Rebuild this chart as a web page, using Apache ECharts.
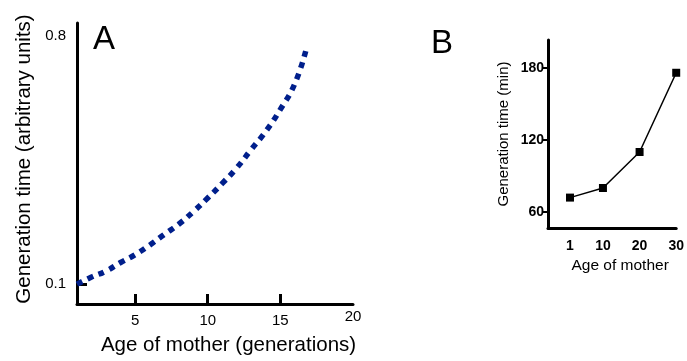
<!DOCTYPE html>
<html>
<head>
<meta charset="utf-8">
<script src="https://cdn.jsdelivr.net/npm/echarts@6/dist/echarts.min.js"></script>
<style>
  html, body { margin: 0; padding: 0; background: #fff; }
  #chart { width: 687px; height: 361px; }
</style>
</head>
<body>
<div id="chart"></div>
<script>
// Panel A: modelled generation time against mother's age (generations)
const ageGenerations = [1, 2, 3, 4, 5, 6, 7, 8, 9, 10, 11, 12, 13, 14, 15, 16, 16.8];
const genTimeArbitrary = [0.100, 0.120, 0.137, 0.161, 0.183, 0.210, 0.240, 0.269, 0.304, 0.343, 0.384, 0.428, 0.480, 0.531, 0.593, 0.666, 0.766];
const aXTickLabels = [5, 10, 15, 20];
const aXTicks = [5, 10, 15];
const aYTickLabels = [0.1, 0.8];

// Panel B: measured generation time (min) against mother's age
const ageMother = [1, 10, 20, 30];
const genTimeMin = [72, 80, 110, 176];
const bXTickLabels = [1, 10, 20, 30];
const bYTickLabels = [60, 120, 180];

const FONT = '"Liberation Sans", Arial, sans-serif';
const chart = echarts.init(document.getElementById('chart'), null, { renderer: 'canvas' });

chart.setOption({
  animation: false,
  backgroundColor: '#fff',
  grid: [
    { left: 77, top: 23, width: 276, height: 283 },
    { left: 548, top: 40, width: 134, height: 188 }
  ],
  title: [
    { text: 'A', left: 88, top: 18, textStyle: { fontFamily: FONT, fontSize: 33, fontWeight: 'normal', color: '#000' } },
    { text: 'B', left: 426, top: 22, textStyle: { fontFamily: FONT, fontSize: 33, fontWeight: 'normal', color: '#000' } }
  ],
  xAxis: [
    {
      gridIndex: 0, type: 'value', min: 1, max: 20,
      splitLine: { show: false },
      axisLine: { onZero: false, lineStyle: { color: '#000', width: 3 } },
      axisTick: { show: true, inside: true, length: 10, customValues: aXTicks, lineStyle: { color: '#000', width: 3 } },
      axisLabel: {
        customValues: aXTickLabels, margin: 9, color: '#000', fontSize: 15, fontFamily: FONT,
        // the end label sits a little higher than the others
        formatter: v => (v === 20 ? '{end|20}' : String(v)),
        rich: { end: { fontSize: 15, fontFamily: FONT, color: '#000', lineHeight: 8 } }
      },
      name: 'Age of mother (generations)', nameLocation: 'middle', nameGap: 31,
      nameTextStyle: { fontFamily: FONT, fontSize: 20.5, color: '#000', padding: [0, 0, 0, 27] }
    },
    {
      gridIndex: 1, type: 'value', min: -5, max: 30,
      splitLine: { show: false },
      axisLine: { onZero: false, lineStyle: { color: '#000', width: 3 } },
      axisTick: { show: false },
      axisLabel: { customValues: bXTickLabels, margin: 11, color: '#000', fontSize: 14, fontWeight: 'bold', fontFamily: FONT },
      name: 'Age of mother', nameLocation: 'middle', nameGap: 30,
      nameTextStyle: { fontFamily: FONT, fontSize: 15.5, color: '#000', padding: [0, 0, 0, 16] }
    }
  ],
  yAxis: [
    {
      gridIndex: 0, type: 'value', min: 0.044, max: 0.8364,
      splitLine: { show: false },
      axisLine: { onZero: false, lineStyle: { color: '#000', width: 3 } },
      axisTick: { show: true, inside: true, length: 10, customValues: [0.1], lineStyle: { color: '#000', width: 3 } },
      axisLabel: { customValues: aYTickLabels, margin: 11, color: '#000', fontSize: 15, fontFamily: FONT },
      name: 'Generation time (arbitrary units)', nameLocation: 'middle', nameGap: 42,
      nameTextStyle: { fontFamily: FONT, fontSize: 20.5, color: '#000', padding: [0, 0, 0, 9] }
    },
    {
      gridIndex: 1, type: 'value', min: 46.67, max: 203.3,
      splitLine: { show: false },
      axisLine: { onZero: false, lineStyle: { color: '#000', width: 3 } },
      axisTick: { show: true, length: 6, customValues: bYTickLabels, lineStyle: { color: '#000', width: 2 } },
      axisLabel: { customValues: bYTickLabels, margin: 4, color: '#000', fontSize: 14, fontWeight: 'bold', fontFamily: FONT },
      name: 'Generation time (min)', nameLocation: 'middle', nameGap: 37,
      nameTextStyle: { fontFamily: FONT, fontSize: 15, color: '#000' }
    }
  ],
  series: [
    {
      type: 'line', xAxisIndex: 0, yAxisIndex: 0,
      data: ageGenerations.map((x, i) => [x, genTimeArbitrary[i]]),
      smooth: true, showSymbol: false, clip: false,
      lineStyle: { color: '#001f8c', width: 5.5, type: [6, 5.8], cap: 'butt' }
    },
    {
      type: 'line', xAxisIndex: 1, yAxisIndex: 1,
      data: ageMother.map((x, i) => [x, genTimeMin[i]]),
      symbol: 'rect', symbolSize: 8, clip: false,
      itemStyle: { color: '#000' },
      lineStyle: { color: '#000', width: 1.5 }
    }
  ]
});
</script>
</body>
</html>
